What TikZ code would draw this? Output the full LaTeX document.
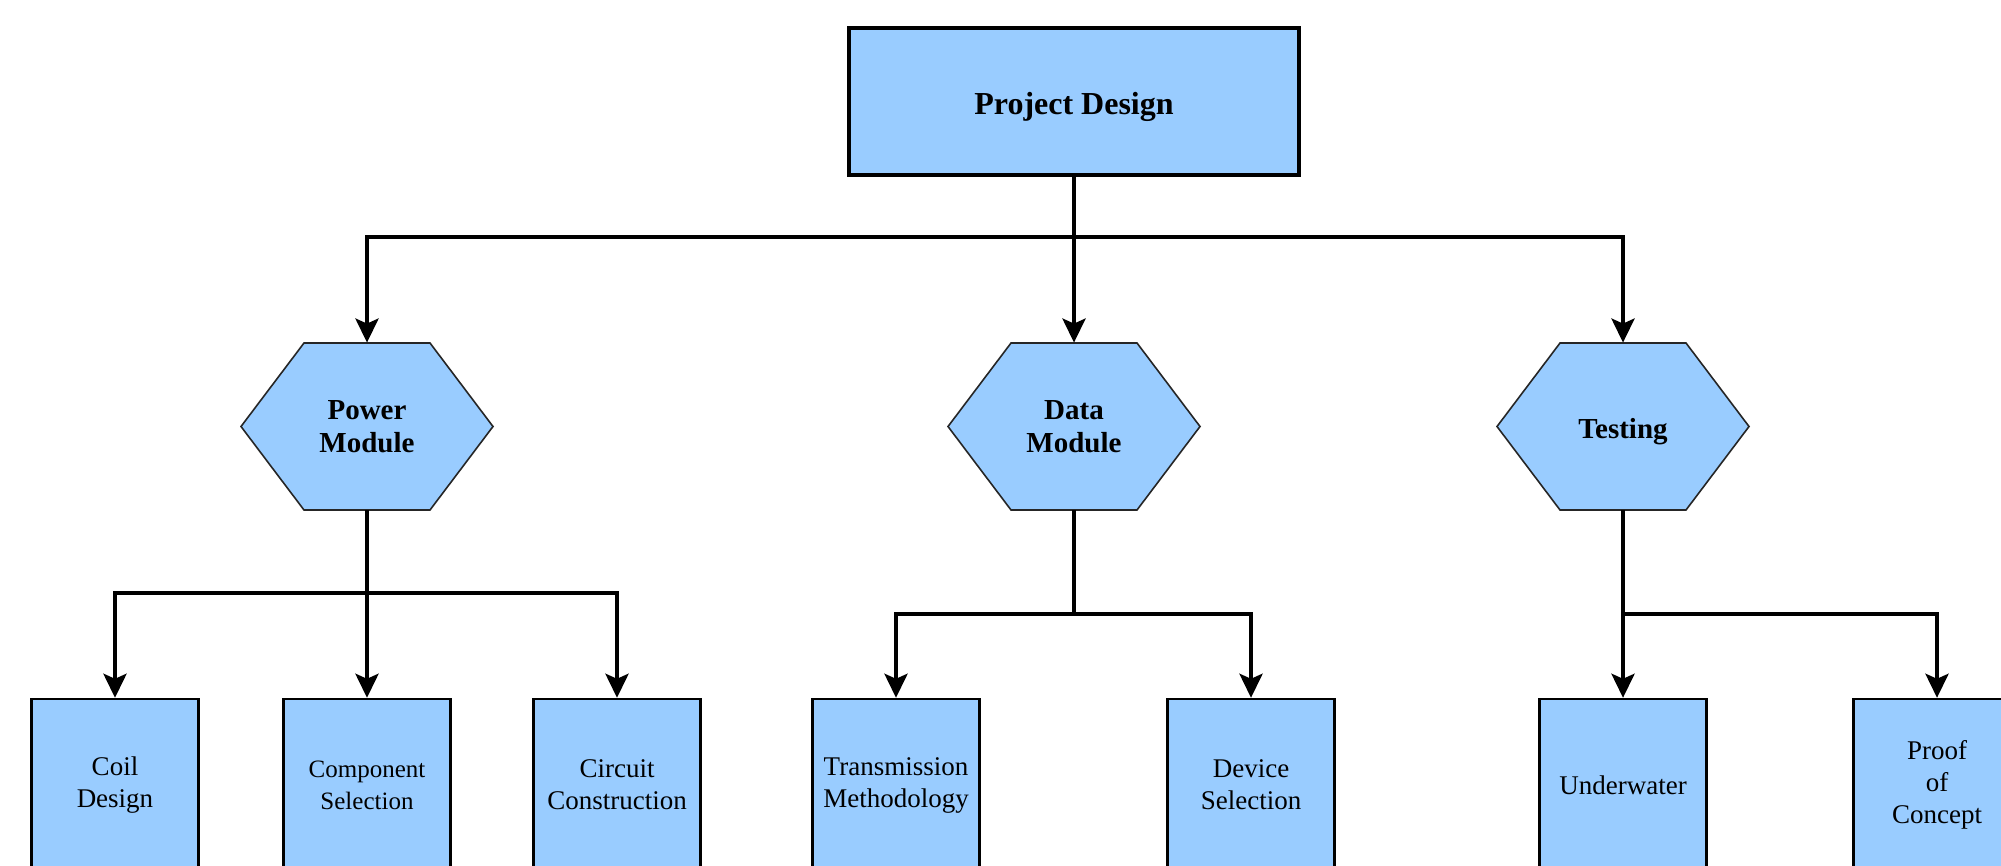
\documentclass[tikz,border=0pt]{standalone}
\usepackage{fontspec}
\setmainfont{Liberation Serif}
\usetikzlibrary{arrows.meta}
\definecolor{boxblue}{HTML}{99CCFF}
\tikzset{
  topbox/.style={draw=black, line width=1.6pt, fill=boxblue, minimum width=225pt, minimum height=73.5pt,
    inner sep=0pt, font=\bfseries\fontsize{16}{19}\selectfont},
  hexline/.style={draw=black!85, line width=0.8pt, fill=boxblue},
  hexbox/.style={minimum width=126pt, minimum height=83.5pt, inner sep=0pt, align=center,
    font=\bfseries\fontsize{14.5}{16.5}\selectfont},
  leafbox/.style={draw=black, line width=1.2pt, fill=boxblue, minimum width=83.5pt, minimum height=86pt,
    inner sep=0pt, align=center, font=\fontsize{13.5}{16}\selectfont},
  conn/.style={line width=2pt, draw=black},
  arr/.style={conn, -{Stealth[length=12pt, width=11.5pt, inset=2.5pt]}}
}
% lower a one-line label while keeping its box size
\newcommand{\lowered}[2]{\raisebox{-#1}[\height][\depth]{#2}}
% hexagon with a named text node: name, x, y, text
\newcommand{\hexat}[4]{%
  \path[hexline] (#2-126,#3) -- (#2-63,#3-83.5) -- (#2+63,#3-83.5) -- (#2+126,#3)
    -- (#2+63,#3+83.5) -- (#2-63,#3+83.5) -- cycle;
  \node[hexbox] (#1) at (#2,#3) {#4};
}
\begin{document}
\begin{tikzpicture}[x=0.5pt, y=-0.5pt]
\useasboundingbox (0,0) rectangle (2001,866);
\clip (0,0) rectangle (2001,866);

% root
\node[topbox] (pd) at (1074,101.5) {\lowered{2.5pt}{Project Design}};

% modules
\hexat{pm}{367}{426.5}{Power\\Module}
\hexat{dm}{1074}{426.5}{Data\\Module}
\hexat{ts}{1623}{426.5}{\lowered{2.5pt}{Testing}}

% tasks
\node[leafbox] (cd) at (115,785) {Coil\\Design};
\node[leafbox, font=\fontsize{12.5}{16}\selectfont] (cs) at (367,785) {Component\\Selection};
\node[leafbox] (cc) at (617,785) {Circuit\\Construction};
\node[leafbox] (tm) at (896,785) {Transmission\\Methodology};
\node[leafbox] (ds) at (1251,785) {Device\\Selection};
\node[leafbox] (uw) at (1623,785) {Underwater};
\node[leafbox] (pc) at (1937,785) {Proof\\of\\Concept};

% branch points
\coordinate (topbus) at (1074,237);
\coordinate (pbus) at (367,593);
\coordinate (dbus) at (1074,614);
\coordinate (tbus) at (1623,614);

% root to modules
\draw[conn] (pd.south) -- (topbus);
\draw[arr] (topbus) -| (pm.north);
\draw[arr] (topbus) -- (dm.north);
\draw[arr] (topbus) -| (ts.north);

% power module
\draw[conn] (pm.south) -- (pbus);
\draw[arr] (pbus) -| (cd.north);
\draw[arr] (pbus) -- (cs.north);
\draw[arr] (pbus) -| (cc.north);

% data module
\draw[conn] (dm.south) -- (dbus);
\draw[arr] (dbus) -| (tm.north);
\draw[arr] (dbus) -| (ds.north);

% testing
\draw[conn] (ts.south) -- (tbus);
\draw[arr] (tbus) -- (uw.north);
\draw[arr] (tbus) -| (pc.north);
\end{tikzpicture}
\end{document}
